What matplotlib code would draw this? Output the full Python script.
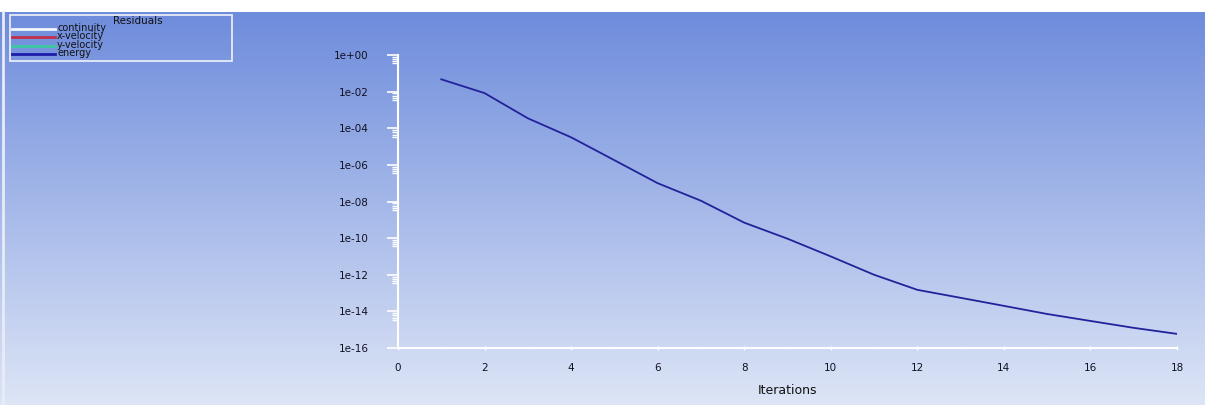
import numpy as np
import matplotlib.pyplot as plt
from matplotlib.ticker import FixedLocator, NullFormatter

# residual history (energy)
iterations = [1, 2, 3, 4, 5, 6, 7, 8, 9, 10, 11, 12, 13, 14, 15, 16, 17, 18]
energy = [4.7e-02, 8.3e-03, 3.5e-04, 3.2e-05, 1.8e-06, 1.0e-07, 1.1e-08, 7.0e-10,
          9.3e-11, 1.0e-11, 1.0e-12, 1.5e-13, 5.5e-14, 2.0e-14, 7.2e-15, 3.0e-15,
          1.26e-15, 5.9e-16]

legend_names = ["continuity", "x-velocity", "y-velocity", "energy"]
legend_colors = ["#f4f6fb", "#c0304a", "#3cc8a0", "#1c1ca8"]

y_ticks = [1e0, 1e-2, 1e-4, 1e-6, 1e-8, 1e-10, 1e-12, 1e-14, 1e-16]
y_tick_labels = ["1e+00", "1e-02", "1e-04", "1e-06", "1e-08", "1e-10", "1e-12", "1e-14", "1e-16"]
x_ticks = [0, 2, 4, 6, 8, 10, 12, 14, 16, 18]

W, H = 1205, 405
fig = plt.figure(figsize=(W / 100, H / 100), dpi=100)

# gradient background
bg = fig.add_axes([0, 0, 1, 1])
top = np.array([110, 140, 220]) / 255
bot = np.array([221, 229, 246]) / 255
t = np.linspace(0, 1, 400)[:, None]
grad = top + (bot - top) * t
img = np.repeat(grad[:, None, :], 2, axis=1)
bg.imshow(img, aspect="auto", extent=[0, W, 0, H - 12], origin="upper")
bg.set_xlim(0, W)
bg.set_ylim(0, H)
bg.axis("off")
bg.plot([3, 3], [0, H - 12], color="#e8ecf6", lw=2)

# main plot
ax = fig.add_axes([398 / W, (H - 348) / H, (1177 - 398) / W, (348 - 55) / H])
ax.patch.set_alpha(0)
ax.plot(iterations, energy, color="#22229a", lw=1.3)
ax.set_yscale("log")
ax.set_xlim(0, 18)
ax.set_ylim(1e-16, 1e0)
for s in ["top", "right"]:
    ax.spines[s].set_visible(False)
for s in ["left", "bottom"]:
    ax.spines[s].set_color("white")
    ax.spines[s].set_linewidth(1.5)

ax.yaxis.set_major_locator(FixedLocator(y_ticks))
ax.set_yticklabels(y_tick_labels)
minor = []
for e in range(0, -17, -2):
    for k in [0.8, 0.6, 0.45, 0.35]:
        minor.append(k * 10.0 ** e)
ax.yaxis.set_minor_locator(FixedLocator(minor))
ax.yaxis.set_minor_formatter(NullFormatter())
ax.tick_params(axis="y", which="major", length=8, width=1.2, color="white",
               pad=13, labelsize=7.5, labelcolor="#111122")
ax.tick_params(axis="y", which="minor", length=4, width=1, color="white")

ax.xaxis.set_major_locator(FixedLocator(x_ticks))
ax.xaxis.set_minor_locator(FixedLocator(list(range(1, 18, 2))))
ax.tick_params(axis="x", which="major", length=3, width=1, color="white",
               direction="inout", pad=9, labelsize=7.5, labelcolor="#111122")
ax.tick_params(axis="x", which="minor", length=2, width=1, color="#e8ecf6",
               direction="inout")
ax.set_xlabel("Iterations", fontsize=9, color="#111111", labelpad=8)

# legend box
leg = fig.add_axes([0, 0, 1, 1])
leg.set_xlim(0, W)
leg.set_ylim(H, 0)
leg.axis("off")
leg.add_patch(plt.Rectangle((10, 15), 222, 46, fill=False, ec="#f0f3fa", lw=1.2))
leg.text(113, 21, "Residuals", fontsize=7.5, ha="left", va="center", color="#111111")
for i, (name, c) in enumerate(zip(legend_names, legend_colors)):
    y = 29 + i * 8.3
    leg.plot([12, 55], [y, y], color=c, lw=2)
    leg.text(57, y - 1, name, fontsize=7, ha="left", va="center", color="#111111")

fig.savefig("out.png", dpi=100)
